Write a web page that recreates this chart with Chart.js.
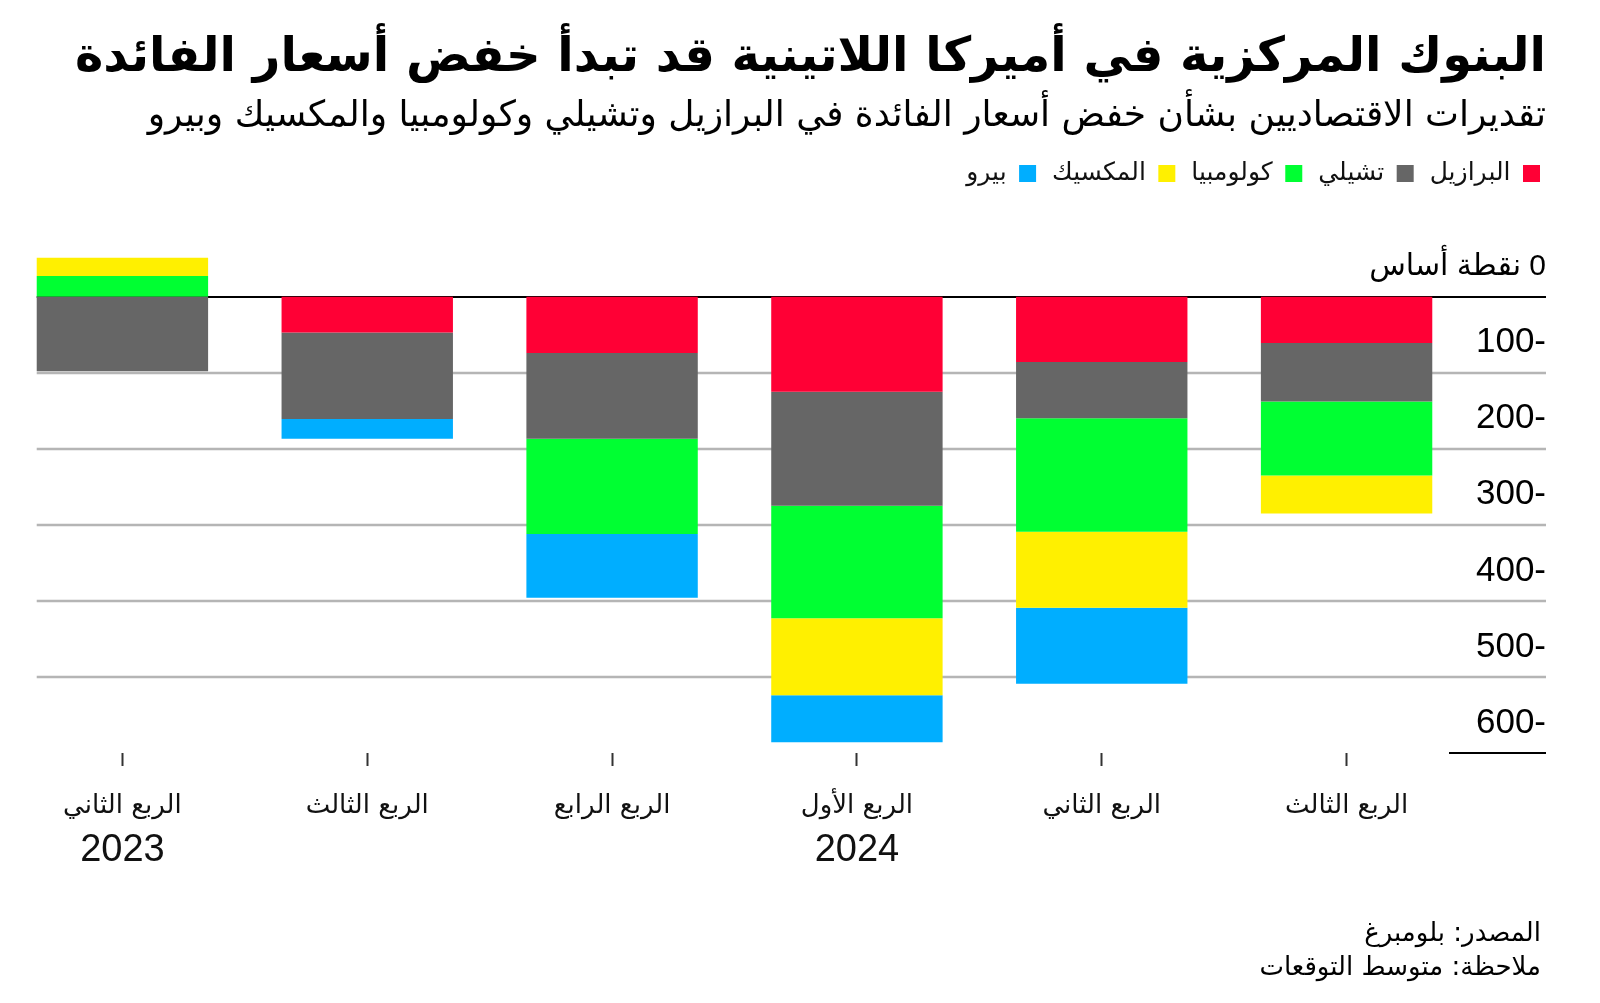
<!DOCTYPE html>
<html lang="ar">
<head>
<meta charset="utf-8">
<script src="https://cdn.jsdelivr.net/npm/chart.js@4.4.1/dist/chart.umd.min.js"></script>
<style>
  html, body { margin: 0; padding: 0; background: #fff; }
  #wrap { position: relative; width: 1600px; height: 1003px; overflow: hidden; }
  #rateChart { position: absolute; left: 0; top: 0; direction: ltr; }
  .txt { position: absolute; right: 54px; direction: rtl; text-align: right; font-family: "DejaVu Sans", sans-serif; color: #000; white-space: nowrap; }
  #title { top: 22px; font-size: 48px; font-weight: bold; line-height: 64px; }
  #subtitle { top: 91px; font-size: 36px; line-height: 46px; }
  #note { top: 915px; right: 59px; font-size: 26px; line-height: 34px; }
</style>
</head>
<body>
<div id="wrap">
  <canvas id="rateChart" width="1600" height="1003"></canvas>
  <div id="title" class="txt">البنوك المركزية في أميركا اللاتينية قد تبدأ خفض أسعار الفائدة</div>
  <div id="subtitle" class="txt">تقديرات الاقتصاديين بشأن خفض أسعار الفائدة في البرازيل وتشيلي وكولومبيا والمكسيك وبيرو</div>
  <div id="note" class="txt">المصدر: بلومبرغ<br>ملاحظة: متوسط التوقعات</div>
</div>
<script>
// البيانات: تغيّر سعر الفائدة المتوقع (نقطة أساس) لكل ربع
const quarterLabels = ['الربع الثاني', 'الربع الثالث', 'الربع الرابع', 'الربع الأول', 'الربع الثاني', 'الربع الثالث'];
const yearLabels = ['2023', '', '', '2024', '', ''];
const brazil = [null, -47, -74, -125, -86, -61];
const chile = [-98, -114, -113, -150, -74, -77];
const colombia = [27, null, -125, -148, -149, -97];
const mexico = [24, null, null, -101, -100, -50];
const peru = [null, -26, -84, -62, -100, null];
const yTicks = [0, -100, -200, -300, -400, -500, -600];

const countryNames = ['البرازيل', 'تشيلي', 'كولومبيا', 'المكسيك', 'بيرو'];
const countryColors = ['#FF0035', '#666666', '#00FF32', '#FFF000', '#00AEFF'];
const seriesValues = [brazil, chile, colombia, mexico, peru];

const latinFont = '"Liberation Sans", "DejaVu Sans", sans-serif';
const arabicFont = '"DejaVu Sans", sans-serif';
const yAxisWidth = 77;

// خطوط الشبكة تمتد من أول عمود حتى حافة التسميات
const gridPlugin = {
    id: 'gridLines',
    beforeDatasetsDraw(chart) {
        const ys = chart.scales.y;
        const first = chart.getDatasetMeta(1).data[0];
        const left = first.x - first.width / 2;
        const right = ys.right;
        const ctx = chart.ctx;
        ctx.save();
        yTicks.forEach(v => {
            const py = Math.round(ys.getPixelForValue(v));
            ctx.beginPath();
            if (v === 0) {
                ctx.strokeStyle = '#000';
                ctx.lineWidth = 2;
                ctx.moveTo(left, py);
                ctx.lineTo(right, py);
            } else if (v === -600) {
                ctx.strokeStyle = '#000';
                ctx.lineWidth = 2;
                ctx.moveTo(ys.left - 20, py);
                ctx.lineTo(right, py);
            } else {
                ctx.strokeStyle = '#b5b5b5';
                ctx.lineWidth = 2.5;
                ctx.moveTo(left, py);
                ctx.lineTo(right, py);
            }
            ctx.stroke();
        });
        ctx.restore();
    }
};

// السنوات تحت تسميات الأرباع
const yearPlugin = {
    id: 'yearLabels',
    afterDraw(chart) {
        const xs = chart.scales.x;
        const ctx = chart.ctx;
        ctx.save();
        ctx.fillStyle = '#111';
        ctx.font = '38px ' + latinFont;
        ctx.textAlign = 'center';
        ctx.textBaseline = 'middle';
        yearLabels.forEach((y, i) => {
            if (y) ctx.fillText(y, xs.getPixelForValue(i), 851);
        });
        ctx.restore();
    }
};

// مسافة تحت وسيلة الإيضاح وإزاحتها قليلا لليمين
const legendSpacer = {
    id: 'legendSpacer',
    beforeInit(chart) {
        const origFit = chart.legend.fit;
        chart.legend.fit = function fit() {
            origFit.bind(chart.legend)();
            this.height = 106;
        };
    },
    afterLayout(chart) {
        chart.legend.left += 10;
        chart.legend.right += 10;
    }
};

const ctx = document.getElementById('rateChart').getContext('2d');
new Chart(ctx, {
    type: 'bar',
    data: {
        labels: quarterLabels,
        datasets: seriesValues.map((vals, i) => ({
            label: countryNames[i],
            data: vals,
            backgroundColor: countryColors[i],
            borderWidth: 0,
            barPercentage: 0.7,
            categoryPercentage: 1.0
        }))
    },
    options: {
        responsive: false,
        animation: false,
        layout: { padding: { left: -3, right: 54, top: 145, bottom: 0 } },
        plugins: {
            title: { display: false },
            tooltip: { enabled: false },
            legend: {
                display: true,
                position: 'top',
                align: 'start',
                rtl: true,
                labels: {
                    boxWidth: 17,
                    boxHeight: 17,
                    padding: 16,
                    color: '#111',
                    font: { family: arabicFont, size: 25 }
                }
            }
        },
        scales: {
            x: {
                stacked: true,
                grid: {
                    display: true,
                    drawOnChartArea: false,
                    drawTicks: true,
                    tickLength: 13,
                    tickWidth: 2,
                    tickColor: '#333',
                    offset: false
                },
                border: { display: false },
                afterFit: (axis) => { axis.height = 250; },
                ticks: {
                    color: '#111',
                    padding: 25,
                    maxRotation: 0,
                    autoSkip: false,
                    font: { family: arabicFont, size: 26 }
                }
            },
            y: {
                position: 'right',
                stacked: true,
                min: -600,
                max: 60,
                grid: { display: false },
                border: { display: false },
                afterBuildTicks: (axis) => { axis.ticks = yTicks.map(v => ({ value: v })); },
                afterFit: (axis) => { axis.width = yAxisWidth; },
                ticks: {
                    mirror: true,
                    crossAlign: 'near',
                    labelOffset: -30,
                    padding: yAxisWidth,
                    color: '#000',
                    font: (c) => (c.tick && c.tick.value === 0)
                        ? { family: latinFont, size: 30 }
                        : { family: latinFont, size: 35 },
                    // \u200E يبقي الصفر على يمين النص العربي
                    callback: (v) => v === 0 ? 'نقطة أساس\u200E 0' : Math.abs(v) + '-'
                }
            }
        }
    },
    plugins: [gridPlugin, yearPlugin, legendSpacer]
});
</script>
</body>
</html>
